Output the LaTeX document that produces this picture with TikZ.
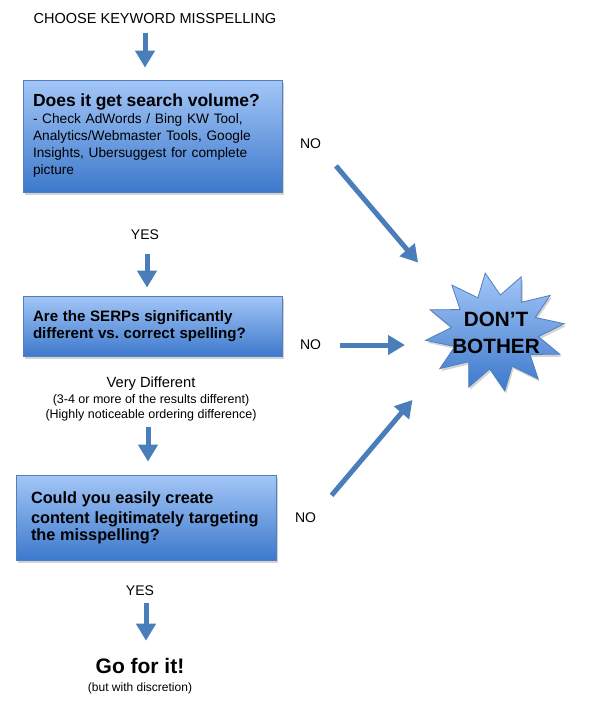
\documentclass[tikz,border=0pt]{standalone}
\usepackage{fontspec}
\setmainfont{Liberation Sans}
\usepackage{tikz}
\usetikzlibrary{shapes,arrows,positioning,calc,shadows,arrows.meta}

\definecolor{boxtop}{HTML}{A3C6F7}
\definecolor{boxbottom}{HTML}{3D79CC}
\definecolor{boxline}{HTML}{4F7FBF}
\definecolor{arrowblue}{HTML}{4A7EBB}

\newcommand{\fsz}[2]{\fontsize{#1}{#2}\selectfont}
\frenchspacing

\begin{document}
\begin{tikzpicture}[x=1pt, y=1pt, inner sep=3pt, font=\fsz{14}{17},
        qbox/.style={draw=boxline, line width=0.8pt, rectangle, top color=boxtop, bottom color=boxbottom, align=left,
            drop shadow={shadow xshift=1.5pt, shadow yshift=-2.5pt, opacity=0.35}},
        burst/.style={star, star points=12, star point ratio=1.6, minimum size=140pt, draw=boxline, line width=0.8pt,
            top color=boxtop, bottom color=boxbottom, drop shadow={shadow xshift=1.5pt, shadow yshift=-2.5pt, opacity=0.35}},
        flow/.style={->, line width=5pt, draw=arrowblue},
        >={Triangle[width=19pt,length=17pt]}
    ]
        \useasboundingbox (0,0) rectangle (593,-705);

        % Start
        \node (choose) at (155,-19) {\fsz{14.5}{17}CHOOSE KEYWORD MISSPELLING};

        % Questions
        \node [qbox, text width=239pt, inner xsep=10pt, minimum height=112pt] (volume) at (152.5,-136)
            {{\fsz{17.5}{17}\bfseries Does it get search volume?}\\ \fsz{13.7}{17}- Check AdWords / Bing KW Tool,\\ Analytics/Webmaster Tools, Google\\ Insights, Ubersuggest for complete\\ picture};
        \node [qbox, text width=239pt, inner xsep=10pt, minimum height=60pt] (serps) at (152.5,-326)
            {\fsz{15.1}{18}\bfseries Are the SERPs significantly\\ different vs. correct spelling?};
        \node [qbox, text width=230pt, inner xsep=15pt, minimum height=85pt] (content) at (146,-517.5)
            {\fsz{16.3}{20}\bfseries Could you easily create\\ content legitimately targeting\\ the misspelling?};

        % Stop
        \node [burst, transform shape, yscale=0.85, shape border rotate=8] (stop) at (495,-332) {};
        \node [align=center, font=\fsz{20.7}{27}\bfseries] (stoptext) at (496,-333) {DON’T\\ BOTHER};

        % Answers
        \node [right=14.5pt of volume, yshift=-8pt] (no1) {NO};
        \node [below=34pt of volume, xshift=-7.5pt] (yes1) {YES};
        \node [right=14.5pt of serps, yshift=-19pt] (no2) {NO};
        \node [below=17.7pt of serps, xshift=-1.5pt, align=center, font=\fsz{12.5}{15.5}] (verydiff)
            {{\fsz{14.7}{15.5}Very Different}\\ (3-4 or more of the results different)\\ (Highly noticeable ordering difference)};
        \node [right=15.5pt of content, yshift=-0.5pt] (no3) {NO};
        \node [below=22pt of content, xshift=-6pt] (yes2) {YES};

        % Go
        \node [below=56pt of yes2, font=\fsz{21}{25}\bfseries] (go) {Go for it!};
        \node [below=3pt of go, font=\fsz{12}{14}] (discretion) {(but with discretion)};

        \draw[flow, shorten <=5.5pt, shorten >=12pt] ([xshift=-10pt]choose.south) -- ([xshift=-7.5pt]volume.north);
        \draw[flow, shorten <=11pt, shorten >=8pt] ([xshift=2pt]yes1.south) -- ([xshift=2pt]yes1.south |- serps.north);
        \draw[flow, shorten <=2.5pt, shorten >=13pt] ([xshift=-3pt]verydiff.south) -- ([xshift=-3pt]verydiff.south |- content.north);
        \draw[flow, shorten <=4pt, shorten >=14pt] ([xshift=6pt]yes2.south) -- ([xshift=6pt]yes2.south |- go.north);

        \draw[flow, shorten <=18pt, shorten >=91pt] (no1.south east) -- ([xshift=-18pt]stop.center);
        \draw[flow, shorten <=15.5pt, shorten >=90pt] (no2) -- (no2 -| stop.center);
        \draw[flow, shorten <=19pt, shorten >=89pt] (no3.north east) -- ([xshift=-25pt]stop.center);

    \end{tikzpicture}
\end{document}
